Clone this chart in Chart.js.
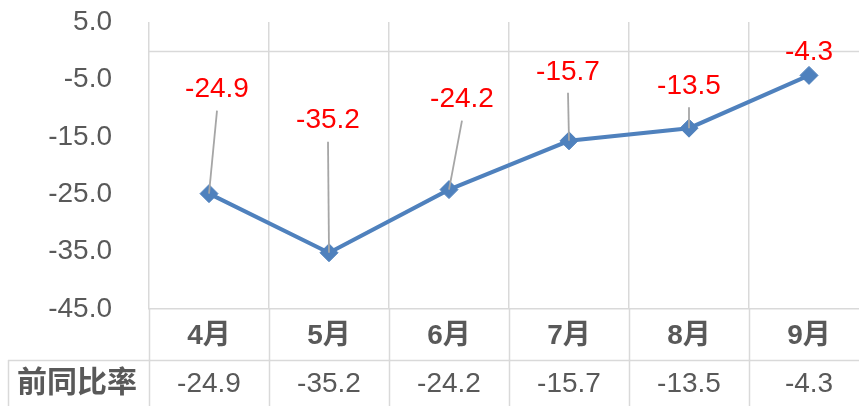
<!DOCTYPE html>
<html>
<head>
<meta charset="utf-8">
<script src="https://cdn.jsdelivr.net/npm/chart.js@4.4.0/dist/chart.umd.min.js"></script>
<style>
  html, body { margin: 0; padding: 0; background: #fff; overflow: hidden; }
  #wrap { width: 859px; height: 406px; overflow: hidden; }
</style>
</head>
<body>
<div id="wrap"><canvas id="chart" width="869" height="406"></canvas></div>
<script>
const months = ["4月", "5月", "6月", "7月", "8月", "9月"];
const yoyRates = [-24.9, -35.2, -24.2, -15.7, -13.5, -4.3];
const rowLabel = "前同比率";
const yMin = -45;
const yMax = 5;
const yStep = 10;

// label placement (pixels from the point), as dragged in the original
const labelOffsets = [[8, -104], [-1, -132], [13, -90], [-1, -69], [0, -42], [0, -23]];

const FONT = '"Liberation Sans", "Noto Sans CJK SC", sans-serif';
const GRID = "#d9d9d9";
const TEXT = "#595959";

const tablePlugin = {
  id: "table",
  afterDraw(chart) {
    const ctx = chart.ctx;
    const x = chart.scales.x;
    const y = chart.scales.y;
    const area = chart.chartArea;
    const half = (x.getPixelForValue(1) - x.getPixelForValue(0)) / 2;
    const rowTop = 360;
    const bottom = chart.height;

    ctx.save();
    // zero line
    ctx.strokeStyle = GRID;
    ctx.lineWidth = 1.5;
    ctx.beginPath();
    const y0 = Math.round(y.getPixelForValue(0)) + 0.5;
    ctx.moveTo(area.left, y0);
    ctx.lineTo(area.right, y0);
    ctx.stroke();

    // table lines
    ctx.beginPath();
    ctx.moveTo(8, rowTop + 0.5);
    ctx.lineTo(area.right, rowTop + 0.5);
    ctx.moveTo(8.5, rowTop);
    ctx.lineTo(8.5, bottom);
    for (let i = 0; i < months.length; i += 1) {
      const bx = Math.round(x.getPixelForValue(i) - half) + 0.5;
      ctx.moveTo(bx, area.bottom);
      ctx.lineTo(bx, bottom);
    }
    ctx.stroke();

    // table text
    ctx.fillStyle = TEXT;
    ctx.textAlign = "center";
    ctx.textBaseline = "middle";
    ctx.font = "bold 30px " + FONT;
    ctx.fillText(rowLabel, 77, 384);
    ctx.font = "28px " + FONT;
    yoyRates.forEach((v, i) => {
      ctx.fillText(v.toFixed(1), x.getPixelForValue(i), 384);
    });

    // data labels with leader lines
    const meta = chart.getDatasetMeta(0);
    meta.data.forEach((pt, i) => {
      const lx = pt.x + labelOffsets[i][0];
      const ly = pt.y + labelOffsets[i][1];
      if (pt.y - (ly + 21) > 8) {
        ctx.strokeStyle = "#a6a6a6";
        ctx.lineWidth = 1.8;
        ctx.beginPath();
        ctx.moveTo(lx, ly + 21);
        ctx.lineTo(pt.x, pt.y);
        ctx.stroke();
      }
    });
    ctx.fillStyle = "#ff0000";
    ctx.font = "28px " + FONT;
    meta.data.forEach((pt, i) => {
      const lx = pt.x + labelOffsets[i][0];
      const ly = pt.y + labelOffsets[i][1];
      ctx.fillText(yoyRates[i].toFixed(1), lx, ly);
    });
    ctx.restore();
  },
};

new Chart(document.getElementById("chart").getContext("2d"), {
  type: "line",
  data: {
    labels: months,
    datasets: [
      {
        data: yoyRates,
        borderColor: "#4f81bd",
        backgroundColor: "#4f81bd",
        borderWidth: 4,
        pointStyle: "rectRot",
        pointRadius: 9,
        pointBorderWidth: 1,
        pointBackgroundColor: "#4f81bd",
        pointBorderColor: "#4f81bd",
        tension: 0,
        fill: false,
      },
    ],
  },
  options: {
    responsive: false,
    animation: false,
    layout: { autoPadding: false, padding: { top: 22, left: 0, right: 0, bottom: 0 } },
    plugins: {
      legend: { display: false },
      tooltip: { enabled: false },
    },
    scales: {
      x: {
        offset: true,
        grid: { offset: true, color: GRID, lineWidth: 1.5, drawTicks: false },
        border: { display: true, color: GRID, width: 1.5 },
        ticks: { color: TEXT, font: { family: FONT, size: 28, weight: "bold" }, padding: 10 },
        afterFit(scale) {
          scale.height = 97;
          scale.paddingLeft = 0;
          scale.paddingRight = 0;
        },
      },
      y: {
        min: yMin,
        max: yMax,
        grid: { display: false, drawTicks: false },
        border: { display: false },
        ticks: {
          stepSize: yStep,
          color: TEXT,
          font: { family: FONT, size: 28 },
          padding: 37,
          callback: (v) => Number(v).toFixed(1),
        },
        afterFit(scale) {
          scale.width = 149;
          scale.paddingTop = 0;
          scale.paddingBottom = 0;
        },
      },
    },
  },
  plugins: [tablePlugin],
});
</script>
</body>
</html>
